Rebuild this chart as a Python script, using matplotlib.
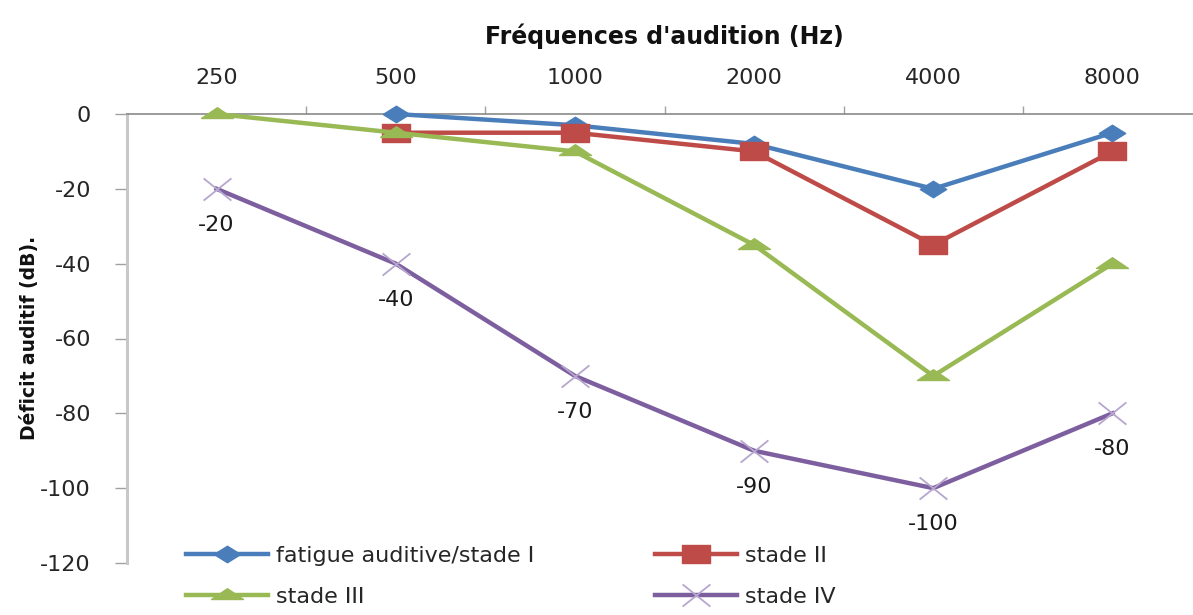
import numpy as np
import matplotlib
matplotlib.use("Agg")
import matplotlib.pyplot as plt
from matplotlib.path import Path

categories = ["250", "500", "1000", "2000", "4000", "8000"]
stade1 = [np.nan, 0, -3, -8, -20, -5]
stade2 = [np.nan, -5, -5, -10, -35, -10]
stade3 = [0, -5, -10, -35, -70, -40]
stade4 = [-20, -40, -70, -90, -100, -80]
labels = ["fatigue auditive/stade I", "stade II", "stade III", "stade IV"]
yticks = [0, -20, -40, -60, -80, -100, -120]

W, H = 1193, 615
fig = plt.figure(figsize=(W / 100, H / 100), dpi=100)
ax = fig.add_axes([127 / W, 1 - 563 / H, (1202 - 127) / W, (563 - 114) / H])

diamond = Path([(0, 1), (1.6, 0), (0, -1), (-1.6, 0), (0, 1)],
               [Path.MOVETO, Path.LINETO, Path.LINETO, Path.LINETO, Path.CLOSEPOLY])
rect = Path([(-1.6, -1), (1.6, -1), (1.6, 1), (-1.6, 1), (-1.6, -1)],
            [Path.MOVETO, Path.LINETO, Path.LINETO, Path.LINETO, Path.CLOSEPOLY])
tri = Path([(-2.0, -0.5), (2.0, -0.5), (0, 0.85), (-2.0, -0.5)],
           [Path.MOVETO, Path.LINETO, Path.LINETO, Path.CLOSEPOLY])
cross = Path([(-1.25, -1), (1.25, 1), (-1.25, 1), (1.25, -1)],
             [Path.MOVETO, Path.LINETO, Path.MOVETO, Path.LINETO])

x = np.arange(len(categories))
lw = 3.2
l1, = ax.plot(x, stade1, color="#4A7EBB", lw=lw, marker=diamond, ms=19,
              mfc="#4A7EBB", mec="#4A7EBB", clip_on=False, zorder=3)
l2, = ax.plot(x, stade2, color="#BE4B48", lw=lw, marker=rect, ms=20,
              mfc="#BE4B48", mec="#BE4B48", clip_on=False, zorder=4)
l3, = ax.plot(x, stade3, color="#98B954", lw=lw, marker=tri, ms=23,
              mfc="#98B954", mec="#98B954", clip_on=False, zorder=5)
l4, = ax.plot(x, stade4, color="#7D5FA0", lw=lw, marker=cross, ms=20,
              mec="#B6A6CE", mew=1.3, clip_on=False, zorder=6)

for xi, v in zip(x, stade4):
    ax.annotate(f"{v:g}", (xi, v), xytext=(0, -26), textcoords="offset points",
                ha="center", va="center", fontsize=16, color="#1a1a1a",
                family="DejaVu Sans")

ax.set_xlim(-0.5, 5.5)
ax.set_ylim(-120, 0)
ax.xaxis.tick_top()
ax.set_xticks(x)
ax.set_xticklabels(categories)
ax.set_xticks(x[:-1] + 0.5, minor=True)
ax.tick_params(axis="x", which="major", length=0, pad=19, labelsize=16,
               labelcolor="#262626")
ax.tick_params(axis="x", which="minor", length=6, width=1, color="#A0A0A0",
               direction="out")
ax.set_yticks(yticks)
ax.set_yticklabels([f"{t:g}" for t in yticks])
ax.tick_params(axis="y", length=9, width=1, color="#A0A0A0", pad=17,
               labelsize=16, labelcolor="#262626")

for s in ["bottom", "right"]:
    ax.spines[s].set_visible(False)
ax.spines["top"].set_color("#8A8A8A")
ax.spines["top"].set_linewidth(1.2)
ax.spines["left"].set_color("#C8C8C8")
ax.spines["left"].set_linewidth(2.2)

fig.text(664 / W, 1 - 36 / H, "Fréquences d'audition (Hz)", ha="center",
         va="center", fontsize=17, fontweight="bold", color="#111111",
         family="DejaVu Sans")
fig.text(30 / W, 1 - 338 / H, "Déficit auditif (dB).", rotation=90,
         ha="center", va="center", fontsize=13.5, fontweight="bold",
         color="#111111", family=["DejaVu Sans"])

leg_kw = dict(frameon=False, fontsize=16, handlelength=3.7, handletextpad=0.35,
              labelspacing=0.95, borderaxespad=0, borderpad=0, labelcolor="#262626")
fig.legend([l1, l3], [labels[0], labels[2]], loc="upper left",
           bbox_to_anchor=(186 / W, 1 - 546 / H), **leg_kw)
fig.legend([l2, l4], [labels[1], labels[3]], loc="upper left",
           bbox_to_anchor=(655 / W, 1 - 546 / H), **leg_kw)

fig.savefig("out.png", dpi=100)
